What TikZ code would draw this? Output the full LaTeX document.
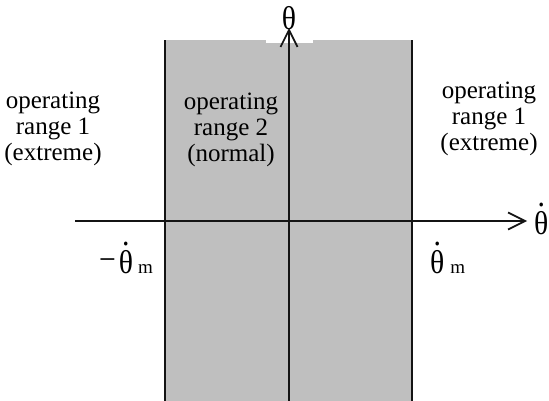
\documentclass[tikz,border=0pt]{standalone}
\usepackage{fontspec}
\setmainfont{Liberation Serif}
\newfontfamily\thfont[FakeStretch=0.9]{Liberation Serif}
\usetikzlibrary{arrows.meta}
\colorlet{normalgrey}{black!25}
\colorlet{inkdark}{black!92}
\newcommand\thdot{{\thfont\ooalign{θ\cr\hidewidth\raisebox{0.84em}{.}\hidewidth\cr}}}
\newcommand\msub{{\rmfamily\fontsize{19}{19}\selectfont m}}
\tikzset{
  border/.style={line width=2pt, inkdark},
  axis/.style={line width=1.7pt, inkdark, -{Straight Barb[length=17pt, width=17pt]}},
  rangetext/.style={align=center, font=\fontsize{25}{26}\selectfont},
  axislabel/.style={inner sep=0pt, font=\fontsize{33}{33}\thfont},
}

\begin{document}
\begin{tikzpicture}[x=1pt,y=-1pt]
  \useasboundingbox (0,0) rectangle (549,401);
  % band of the normal range
  \fill[normalgrey] (165,40) rectangle (412,401);
  \node[axislabel, fill=white, minimum width=47pt, text height=22pt, text depth=13pt, anchor=south] (thlab) at (289,43) {θ};
  \coordinate (lbot) at (165,401);
  \coordinate (ltop) at (165,40);
  \coordinate (rbot) at (412,401);
  \coordinate (rtop) at (412,40);
  \coordinate (xfrom) at (75,221);
  \coordinate (xto) at (527,221);
  \coordinate (yfrom) at (289,401);
  \coordinate (yto) at (289,28);
  \draw[border] (lbot) -- (ltop);
  \draw[border] (rbot) -- (rtop);
  \draw[axis] (xfrom) -- (xto);
  \draw[axis] (yfrom) -- (yto);
  \node[axislabel, anchor=base west] (xlab) at (534,234) {\thdot};
  \node[axislabel, anchor=base east] (mneg) at (153,273) {\raisebox{3pt}{−}\kern3pt\thdot\kern5pt\msub};
  \node[axislabel, anchor=base west] (mpos) at (430,273) {\thdot\kern6pt\msub};
  \node[rangetext] (extremeL) at (53,129) {operating\\range 1\\(extreme)};
  \node[rangetext] (normal) at (231,130) {operating\\range 2\\(normal)};
  \node[rangetext] (extremeR) at (489,119) {operating\\range 1\\(extreme)};
\end{tikzpicture}
\end{document}
